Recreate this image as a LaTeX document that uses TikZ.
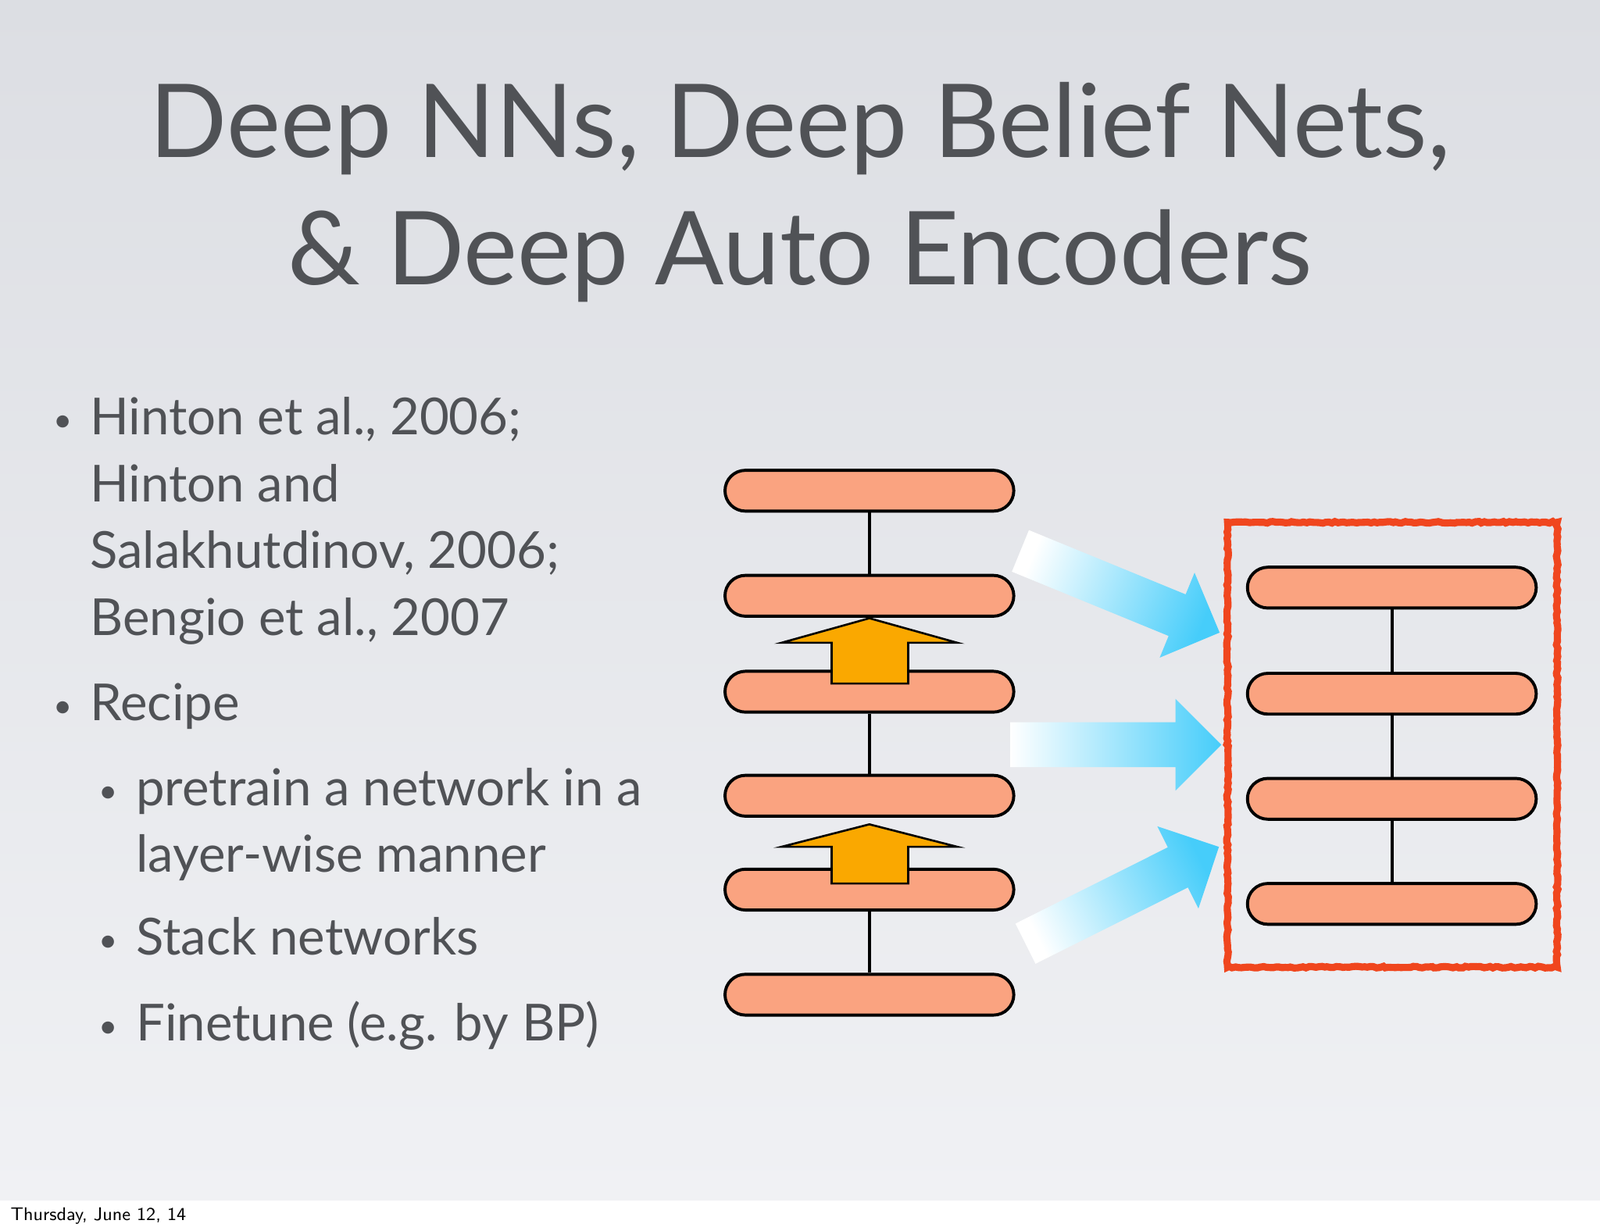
\documentclass[tikz,border=0pt]{standalone}
\usepackage{fontspec}
\setmainfont{Lato}
\usetikzlibrary{decorations.pathmorphing}
\definecolor{salmon}{RGB}{250,163,128}
\definecolor{gold}{RGB}{250,168,0}
\definecolor{sky}{RGB}{70,205,250}
\definecolor{tgray}{RGB}{80,82,86}
\definecolor{rbox}{RGB}{240,70,30}
\definecolor{bgtop}{RGB}{220,222,227}
\definecolor{bgbot}{RGB}{240,241,244}
\tikzset{
 bar/.style={draw=black,line width=1.5pt,fill=salmon,rounded corners=10pt,minimum width=141.5pt,minimum height=20pt,inner sep=0pt},
 link/.style={line width=1.5pt},
 title/.style={font=\fontsize{50}{60}\selectfont,text=tgray,anchor=center},
 bul/.style={font=\fontsize{25}{30}\selectfont,text=tgray,anchor=base west,inner sep=0pt},
 dot/.style={font=\fontsize{16}{20}\selectfont,text=tgray,anchor=base,inner sep=0pt},
 oarrow/.style={draw=black,line width=1pt,fill=gold},
}
\newcommand{\blarrow}[4]{%
 \begin{scope}[shift={(#1,#2)},rotate=#3]
  \pgfmathsetmacro{\sa}{90+#3}
  \shade[left color=white,right color=sky,shading angle=\sa] (0,-22)--(#4-45,-22)--(#4-45,-45)--(#4,0)--(#4-45,45)--(#4-45,22)--(0,22)--cycle;
 \end{scope}}
\begin{document}
\begin{tikzpicture}[x=0.5pt,y=0.5pt]
\useasboundingbox (0,0) rectangle (1568,1206);
\shade[top color=bgtop,bottom color=bgbot] (0,29) rectangle (1568,1206);
\fill[white] (0,0) rectangle (1568,29);
\node[anchor=base west,font=\sffamily\fontsize{9}{10}\selectfont,inner sep=0pt] (foot) at (10,10) {Thursday, June 12, 14};
\node[title] (t1) at (784,1080) {Deep NNs, Deep Belief Nets,};
\node[title] (t2) at (784,955) {\& Deep Auto Encoders};
\foreach \n/\x/\y in {b1/62/783,b2/62/503,b3/106/419,b4/106/273,b5/106/189}
  \node[dot] (\n) at (\x,\y) {•};
\foreach \n/\x/\y/\t in {h1/88/780/{Hinton et al., 2006;},h2/88/714/{Hinton and},h3/88/649/{Salakhutdinov, 2006;},h4/88/583/{Bengio et al., 2007},r1/88/500/Recipe,s1/133/416/{pretrain a network in a},s2/133/351/{layer-wise manner},s3/133/270/{Stack networks},s4/133/186/{Finetune (e.g. by BP)}}
  \node[bul] (\n) at (\x,\y) {\t};
% blue arrows
\blarrow{1000}{666}{-22.3}{211}
\blarrow{990}{476}{0}{207}
\blarrow{1005}{281}{26.6}{212}
% left stack
\foreach \n/\y in {L1/725,L2/622,L3/528,L4/426,L5/334,L6/231} \node[bar] (\n) at (852,\y) {};
\draw[link] (L1)--(L2); \draw[link] (L3)--(L4); \draw[link] (L5)--(L6);
\draw[oarrow] (815,536)--(815,576)--(766,576)--(852,600)--(938,576)--(890,576)--(890,536)--cycle;
\draw[oarrow] (815,340)--(815,376)--(766,376)--(852,398)--(938,376)--(890,376)--(890,340)--cycle;
% right stack
\foreach \n/\y in {R1/630,R2/526,R3/423,R4/320} \node[bar] (\n) at (1364,\y) {};
\draw[link] (R1)--(R2); \draw[link] (R2)--(R3); \draw[link] (R3)--(R4);
\draw[rbox,line width=3.5pt,decorate,decoration={random steps,segment length=1.5pt,amplitude=0.4pt}] (1203,258) rectangle (1526,694);
\end{tikzpicture}
\end{document}
